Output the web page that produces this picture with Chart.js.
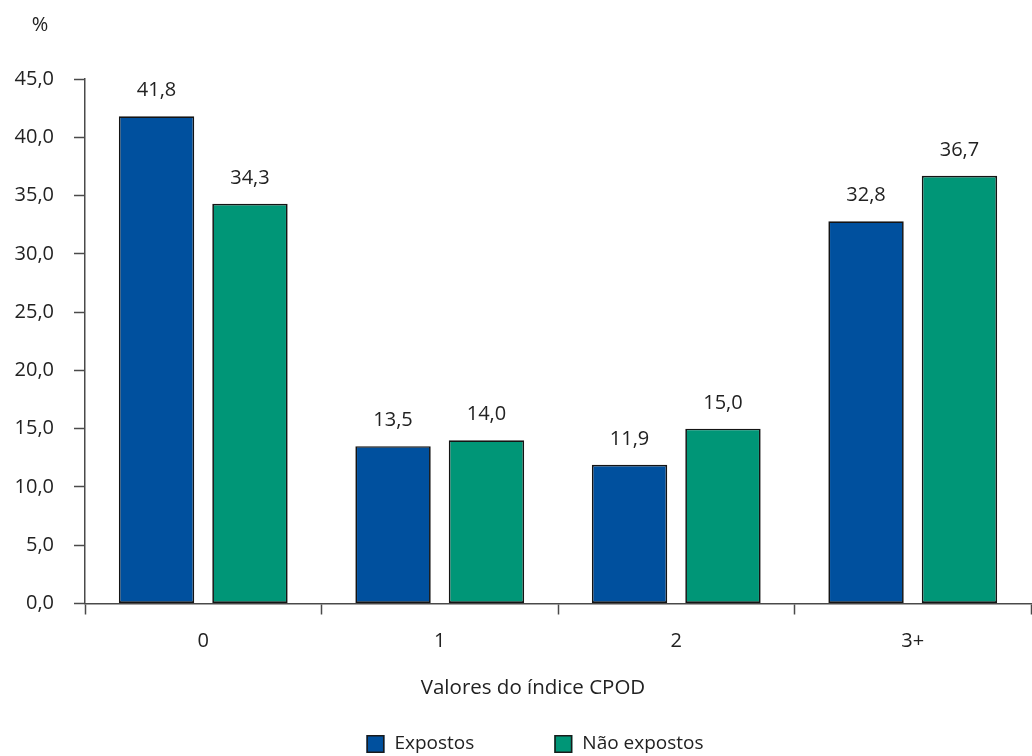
<!DOCTYPE html>
<html>
<head>
<meta charset="utf-8">
<script src="https://cdn.jsdelivr.net/npm/chart.js@4.4.1/dist/chart.umd.min.js"></script>
<style>
  html, body { margin: 0; padding: 0; background: #fff; }
  #wrap { width: 1032px; height: 756px; position: relative; }
</style>
</head>
<body>
<div id="wrap"><canvas id="chart"></canvas></div>
<script>
// Distribuição do índice CPOD, expostos x não expostos
const categories = ['0', '1', '2', '3+'];
const expostos = [41.8, 13.5, 11.9, 32.8];
const naoExpostos = [34.3, 14.0, 15.0, 36.7];
const seriesNames = ['Expostos', 'Não expostos'];
const yTicks = [0, 5, 10, 15, 20, 25, 30, 35, 40, 45];
const xTitle = 'Valores do índice CPOD';
const yUnit = '%';

const FONT = '"Open Sans", "DejaVu Sans", sans-serif';
const TEXT = '#222222';
const AXIS = '#4a4a4a';
const BLUE = '#00509e';
const GREEN = '#009677';

const fmt = (v) => v.toFixed(1).replace('.', ',');

// rótulos de valor acima das barras
const valueLabels = {
  id: 'valueLabels',
  afterDatasetsDraw(chart) {
    const ctx = chart.ctx;
    ctx.save();
    ctx.font = '20px ' + FONT;
    ctx.fillStyle = TEXT;
    ctx.textAlign = 'center';
    ctx.textBaseline = 'alphabetic';
    chart.data.datasets.forEach((ds, i) => {
      chart.getDatasetMeta(i).data.forEach((bar, j) => {
        ctx.fillText(fmt(ds.data[j]), bar.x, bar.y - 20);
      });
    });
    ctx.restore();
  },
};

// "%", título do eixo x e legenda
const extras = {
  id: 'extras',
  afterDraw(chart) {
    const ctx = chart.ctx;
    ctx.save();
    ctx.fillStyle = TEXT;
    ctx.textBaseline = 'middle';
    ctx.font = '20px ' + FONT;
    ctx.textAlign = 'center';
    ctx.fillText(yUnit, 40, 25);

    ctx.font = '20.5px ' + FONT;
    ctx.fillText(xTitle, 533, 688);

    ctx.font = '19px ' + FONT;
    ctx.textAlign = 'left';
    const box = 18, gapText = 10, gapItem = 80;
    const widths = chart.data.datasets.map((ds) => box + gapText + ctx.measureText(ds.label).width);
    const total = widths.reduce((a, b) => a + b, 0) + gapItem * (widths.length - 1);
    let x = 535 - total / 2;
    const y = 735;
    chart.data.datasets.forEach((ds, i) => {
      ctx.fillStyle = ds.backgroundColor;
      ctx.fillRect(x, y, box, box);
      ctx.strokeStyle = '#1a1a1a';
      ctx.lineWidth = 1.5;
      ctx.strokeRect(x + 0.75, y + 0.75, box - 1.5, box - 1.5);
      ctx.fillStyle = TEXT;
      ctx.fillText(ds.label, x + box + gapText, y + box / 2);
      x += widths[i] + gapItem;
    });
    ctx.restore();
  },
};

new Chart(document.getElementById('chart'), {
  type: 'bar',
  data: {
    labels: categories,
    datasets: [
      {
        label: seriesNames[0],
        data: expostos,
        backgroundColor: BLUE,
        borderColor: '#141414',
        borderWidth: 1.7,
        borderSkipped: false,
      },
      {
        label: seriesNames[1],
        data: naoExpostos,
        backgroundColor: GREEN,
        borderColor: '#141414',
        borderWidth: 1.7,
        borderSkipped: false,
      },
    ],
  },
  options: {
    responsive: true,
    maintainAspectRatio: false,
    animation: false,
    barPercentage: 0.807,
    categoryPercentage: 0.79,
    layout: { padding: { top: 79, right: 1, left: 0, bottom: 0 } },
    plugins: {
      legend: { display: false },
      tooltip: { enabled: false },
    },
    scales: {
      x: {
        afterFit: (scale) => { scale.height = 152.5; },
        grid: {
          offset: true,
          drawOnChartArea: false,
          drawTicks: true,
          tickLength: 11,
          tickColor: AXIS,
          tickWidth: 1.5,
        },
        border: { color: AXIS, width: 1.5 },
        ticks: { color: TEXT, font: { family: FONT, size: 20 }, padding: 15 },
      },
      y: {
        min: 0,
        max: 45,
        afterFit: (scale) => { scale.width = 85; },
        afterBuildTicks: (scale) => { scale.ticks = yTicks.map((v) => ({ value: v })); },
        grid: {
          drawOnChartArea: false,
          drawTicks: true,
          tickLength: 11,
          tickColor: AXIS,
          tickWidth: 1.5,
        },
        border: { color: AXIS, width: 1.5 },
        ticks: {
          color: TEXT,
          font: { family: FONT, size: 20 },
          padding: 20,
          callback: (v) => fmt(v),
        },
      },
    },
  },
  plugins: [valueLabels, extras],
});
</script>
</body>
</html>
